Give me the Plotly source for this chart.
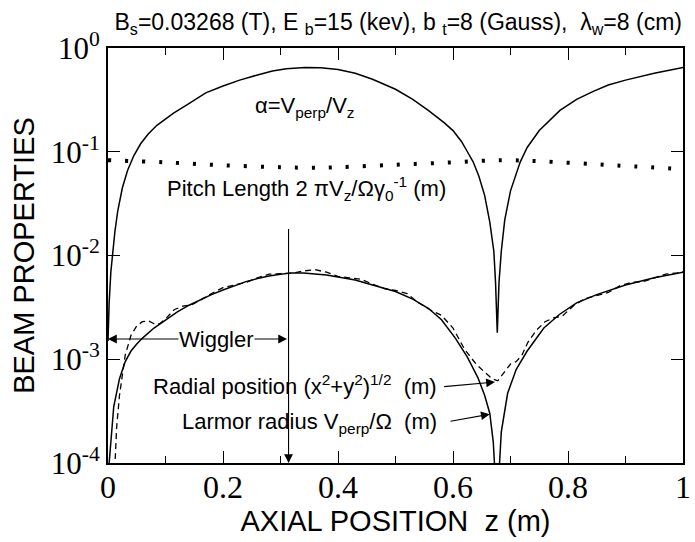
import plotly.graph_objects as go

# ---- data ----
alpha_z = [0.0, 0.002, 0.005, 0.008, 0.012, 0.017, 0.025, 0.034, 0.045, 0.057, 0.07, 0.085,
           0.10, 0.114, 0.14, 0.17, 0.20, 0.229, 0.26, 0.286, 0.31, 0.343, 0.37, 0.40, 0.43,
           0.46, 0.50, 0.53, 0.557, 0.585, 0.60, 0.615, 0.625, 0.635, 0.645, 0.655, 0.664,
           0.671, 0.674, 0.677, 0.680, 0.684, 0.69, 0.70, 0.717, 0.729, 0.75, 0.786, 0.815,
           0.843, 0.87, 0.9, 0.95, 1.0]
alpha_v = [1.5e-3, 3.5e-3, 7e-3, 0.011, 0.017, 0.027, 0.045, 0.066, 0.092, 0.12, 0.148, 0.18,
           0.208, 0.236, 0.29, 0.37, 0.43, 0.49, 0.55, 0.60, 0.63, 0.65, 0.645, 0.62, 0.57,
           0.50, 0.40, 0.32, 0.25, 0.19, 0.16, 0.125, 0.10, 0.08, 0.058, 0.038, 0.021,
           0.011, 0.0055, 0.0018, 0.0055, 0.011, 0.022, 0.042, 0.08, 0.11, 0.16, 0.25, 0.32,
           0.38, 0.44, 0.49, 0.57, 0.65]

pitch_z = [0.0, 0.1, 0.2, 0.3, 0.35, 0.4, 0.5, 0.6, 0.686, 0.75, 0.843, 0.9, 1.0]
pitch_v = [0.083, 0.079, 0.074, 0.071, 0.070, 0.071, 0.075, 0.079, 0.083, 0.081, 0.076, 0.073, 0.068]

larmor_z = [0.001, 0.002, 0.01, 0.02, 0.03, 0.04, 0.05, 0.06, 0.08, 0.10, 0.12, 0.14, 0.16,
            0.18, 0.20, 0.22, 0.24, 0.26, 0.28, 0.30, 0.32, 0.34, 0.36, 0.38, 0.40, 0.43,
            0.46, 0.50, 0.53, 0.557, 0.58, 0.604, 0.625, 0.643, 0.655, 0.664, 0.670, 0.673,
            None,
            0.680, 0.684, 0.695, 0.71, 0.729, 0.758, 0.785, 0.815, 0.85, 0.9, 0.95, 1.0]
larmor_v = [5e-5, 1e-4, 3.5e-4, 6.5e-4, 9.5e-4, 1.2e-3, 1.4e-3, 1.6e-3, 2.0e-3, 2.4e-3,
            2.85e-3, 3.3e-3, 3.75e-3, 4.2e-3, 4.65e-3, 5.1e-3, 5.6e-3, 6.0e-3, 6.35e-3,
            6.6e-3, 6.8e-3, 6.8e-3, 6.7e-3, 6.5e-3, 6.2e-3, 5.8e-3, 5.2e-3, 4.5e-3, 3.8e-3,
            3.1e-3, 2.4e-3, 1.6e-3, 1.05e-3, 6.7e-4, 4.5e-4, 3e-4, 1.6e-4, 8e-5,
            None,
            8e-5, 2e-4, 4.7e-4, 8e-4, 1.2e-3, 2.0e-3, 2.7e-3, 3.5e-3, 4.2e-3, 5.2e-3, 6.1e-3, 6.9e-3]

radial_z = [0.011, 0.012, 0.015, 0.02, 0.025, 0.03, 0.04, 0.05, 0.06, 0.07, 0.08, 0.09, 0.10,
            0.115, 0.13, 0.145, 0.16, 0.18, 0.20, 0.22, 0.24, 0.26, 0.28, 0.30, 0.32, 0.34,
            0.36, 0.38, 0.40, 0.42, 0.44, 0.46, 0.48, 0.50, 0.52, 0.54, 0.56, 0.58, 0.60,
            0.62, 0.64, 0.655, 0.668, 0.678, 0.69, 0.70, 0.71, 0.72, 0.73, 0.745, 0.76,
            0.775, 0.79, 0.81, 0.83, 0.85, 0.87, 0.89, 0.91, 0.93, 0.95, 0.97, 0.99, 1.0]
radial_v = [7e-5, 1e-4, 2.2e-4, 4.5e-4, 7.5e-4, 1.1e-3, 1.7e-3, 2.1e-3, 2.3e-3, 2.35e-3,
            2.2e-3, 2.2e-3, 2.45e-3, 3.0e-3, 3.25e-3, 3.35e-3, 3.7e-3, 4.3e-3, 4.9e-3,
            5.2e-3, 5.5e-3, 6.1e-3, 6.6e-3, 6.7e-3, 6.75e-3, 7.1e-3, 7.3e-3, 6.9e-3,
            6.3e-3, 6.1e-3, 5.9e-3, 5.3e-3, 4.8e-3, 4.6e-3, 4.3e-3, 3.5e-3, 3.0e-3,
            2.65e-3, 2.0e-3, 1.25e-3, 9e-4, 7.5e-4, 6.5e-4, 6.2e-4, 7.5e-4, 9e-4, 9.5e-4,
            1.1e-3, 1.45e-3, 1.9e-3, 2.3e-3, 2.5e-3, 2.6e-3, 3.3e-3, 3.85e-3, 4.1e-3,
            4.4e-3, 5.1e-3, 5.5e-3, 5.6e-3, 6.1e-3, 6.6e-3, 6.8e-3, 7.0e-3]

x_ticks = [0, 0.2, 0.4, 0.6, 0.8, 1]
x_tick_text = ["0", "0.2", "0.4", "0.6", "0.8", "1"]
y_ticks = [1e-4, 1e-3, 1e-2, 1e-1, 1]
y_tick_text = ["10<sup>-4</sup>", "10<sup>-3</sup>", "10<sup>-2</sup>", "10<sup>-1</sup>", "10<sup>0</sup>"]

title_text = ("B<sub>s</sub>=0.03268 (T), E <sub>b</sub>=15 (kev), b <sub>t</sub>=8 (Gauss),  "
              "λ<sub>w</sub>=8 (cm)")

SANS = "Liberation Sans, Arial, sans-serif"
SERIF = "Liberation Serif, Times New Roman, serif"

fig = go.Figure()
fig.add_trace(go.Scatter(x=alpha_z, y=alpha_v, mode="lines",
                         line=dict(color="black", width=1.5), name="alpha"))
fig.add_trace(go.Scatter(x=pitch_z, y=pitch_v, mode="lines", line_shape="spline",
                         line=dict(color="black", width=4, dash="3px,14px"), name="pitch"))
fig.add_trace(go.Scatter(x=larmor_z, y=larmor_v, mode="lines", connectgaps=False,
                         line=dict(color="black", width=1.5), name="larmor"))
fig.add_trace(go.Scatter(x=radial_z, y=radial_v, mode="lines",
                         line=dict(color="black", width=1.3, dash="6px,4px"), name="radial"))

fig.update_layout(
    width=695, height=542,
    margin=dict(l=108, r=4, t=48, b=79),
    paper_bgcolor="white", plot_bgcolor="white",
    showlegend=False,
    font=dict(family=SANS, color="black"),
    title=dict(text=title_text, x=0.573, xanchor="center", y=0.96, yanchor="middle",
               font=dict(family=SANS, size=23, color="black")),
)

fig.update_xaxes(range=[0, 1], tickvals=x_ticks, ticktext=x_tick_text,
                 ticks="inside", ticklen=12, tickwidth=1.2, tickcolor="black",
                 minor=dict(dtick=0.1, ticks="inside", ticklen=7, tickcolor="black", tickwidth=1.2),
                 showline=True, linecolor="black", linewidth=2, mirror="ticks",
                 showgrid=False, zeroline=False, ticklabeloverflow="allow",
                 ticklabelstandoff=-5,
                 tickfont=dict(family=SERIF, size=32, color="black"),
                 title=dict(text="AXIAL POSITION  z (m)", font=dict(family=SANS, size=29, color="black"),
                            standoff=6))
fig.update_yaxes(type="log", range=[-4, 0], tickvals=y_ticks, ticktext=y_tick_text,
                 ticks="inside", ticklen=12, tickwidth=1.2, tickcolor="black",
                 showline=True, linecolor="black", linewidth=2, mirror="ticks",
                 showgrid=False, zeroline=False, ticklabeloverflow="allow",
                 tickfont=dict(family=SERIF, size=31, color="black"),
                 title=dict(text="BEAM PROPERTIES", font=dict(family=SANS, size=29, color="black"),
                            standoff=8))

ann_font = dict(family=SANS, size=22, color="black")
# text labels
fig.add_annotation(x=0.343, y=-0.569, xref="x", yref="y", showarrow=False,
                   text="α=V<sub>perp</sub>/V<sub>z</sub>", font=ann_font)
fig.add_annotation(x=0.345, y=-1.35, xref="x", yref="y", showarrow=False,
                   text="Pitch Length 2 πV<sub>z</sub>/Ωγ<sub>0</sub><sup>-1</sup> (m)", font=ann_font)
# vertical arrow
fig.add_annotation(x=0.314, y=-4, ax=0.314, ay=-1.73, xref="x", yref="y", axref="x", ayref="y",
                   text="", showarrow=True, arrowhead=2, arrowsize=1.6, arrowwidth=1.1,
                   arrowcolor="black", standoff=0)
# wiggler double arrow
fig.add_annotation(x=0.0, y=-2.805, ax=0.314, ay=-2.805, xref="x", yref="y", axref="x", ayref="y",
                   text="", showarrow=True, arrowhead=2, startarrowhead=2, arrowside="end+start",
                   arrowsize=1.6, startarrowsize=1.6, arrowwidth=1.1, arrowcolor="black",
                   standoff=0, startstandoff=0)
fig.add_annotation(x=0.188, y=-2.805, xref="x", yref="y", showarrow=False, text="Wiggler",
                   font=ann_font, bgcolor="white", borderpad=0)
# radial label + arrow
fig.add_annotation(x=0.575, y=-3.25, xref="x", yref="y", showarrow=False, xanchor="right",
                   text="Radial position (x<sup>2</sup>+y<sup>2</sup>)<sup>1/2</sup>  (m)", font=ann_font)
fig.add_annotation(x=0.673, y=-3.22, ax=0.582, ay=-3.265, xref="x", yref="y", axref="x", ayref="y",
                   text="", showarrow=True, arrowhead=2, arrowsize=1.6, arrowwidth=1.1,
                   arrowcolor="black", standoff=0)
# larmor label + arrow
fig.add_annotation(x=0.575, y=-3.614, xref="x", yref="y", showarrow=False, xanchor="right",
                   text="Larmor radius V<sub>perp</sub>/Ω  (m)", font=ann_font)
fig.add_annotation(x=0.664, y=-3.53, ax=0.593, ay=-3.60, xref="x", yref="y", axref="x", ayref="y",
                   text="", showarrow=True, arrowhead=2, arrowsize=1.6, arrowwidth=1.1,
                   arrowcolor="black", standoff=0)

fig.write_html("out.html")
